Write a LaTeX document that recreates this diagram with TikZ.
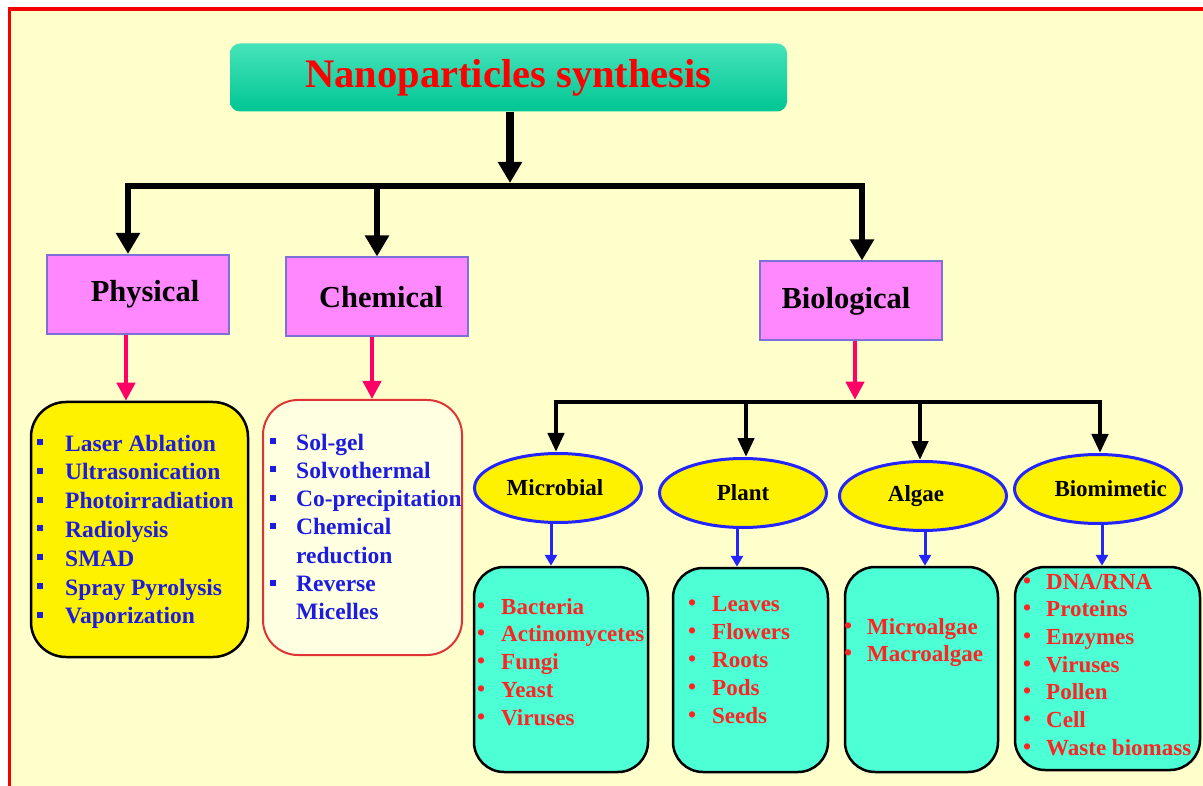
\documentclass[tikz,border=0pt]{standalone}
\usepackage{fontspec}
\setmainfont{Liberation Serif}
\usetikzlibrary{arrows.meta,shapes.geometric}
\definecolor{bgy}{HTML}{FFFFCC}
\definecolor{framered}{HTML}{F40000}
\definecolor{titletop}{HTML}{46E4BA}
\definecolor{titlebot}{HTML}{00C593}
\definecolor{magbox}{HTML}{FF88FF}
\definecolor{magborder}{HTML}{7E70D8}
\definecolor{pinkarr}{HTML}{FF0066}
\definecolor{listblue}{HTML}{1C1CE0}
\definecolor{ellblue}{HTML}{2424FF}
\definecolor{cyanbox}{HTML}{4DFFD4}
\definecolor{listred}{HTML}{FF2424}
\definecolor{chemred}{HTML}{E03434}
\definecolor{chemfill}{HTML}{FFFFE2}
\newcommand\mysqbul{\rule[6pt]{5.5pt}{6pt}}
\newcommand\myrdbul{\raisebox{1pt}{\textbullet}}
\begin{document}
\begin{tikzpicture}[x=1pt,y=-1pt,
  titlebox/.style={rectangle, rounded corners=10pt, top color=titletop, bottom color=titlebot,
    minimum width=557pt, minimum height=68pt, inner sep=0pt,
    font=\fontsize{40.5}{42}\selectfont\bfseries, text=red},
  catbox/.style={rectangle, fill=magbox, draw=magborder, line width=2pt,
    minimum width=182pt, minimum height=79pt, inner sep=0pt,
    font=\fontsize{30.5}{32}\selectfont\bfseries},
  ylist/.style={rectangle, rounded corners=35pt, fill=yellow, draw=black, line width=2.5pt,
    inner sep=0pt},
  clist/.style={rectangle, rounded corners=35pt, fill=chemfill, draw=chemred, line width=2pt,
    inner sep=0pt},
  glist/.style={rectangle, rounded corners=30pt, fill=cyanbox, draw=black, line width=2.5pt,
    inner sep=0pt},
  subell/.style={ellipse, fill=yellow, draw=ellblue, line width=3pt, inner sep=0pt,
    minimum width=167pt, minimum height=69pt, font=\fontsize{23}{25}\selectfont\bfseries},
  blueitem/.style={anchor=base west, inner sep=0pt, text=listblue,
    font=\fontsize{23.5}{25}\selectfont\bfseries},
  reditem/.style={anchor=base west, inner sep=0pt, text=listred,
    font=\fontsize{23}{25}\selectfont\bfseries},
  bigarrow/.style={line width=6.5pt, -{Triangle[width=23pt,length=21pt]}},
  trunk/.style={line width=6.5pt, line cap=rect},
  subtrunk/.style={line width=4.5pt, line cap=rect},
  smallarrow/.style={line width=4.5pt, -{Triangle[width=16pt,length=19pt]}},
  pinkarrow/.style={draw=pinkarr, line width=4pt, -{Triangle[width=18pt,length=18pt]}},
  bluearrow/.style={draw=ellblue, line width=3pt, -{Triangle[width=12pt,length=11pt]}}
]
\useasboundingbox (0,0) rectangle (1203,786);
\fill[white] (0,0) rectangle (1203,786);
\fill[bgy] (9,9) rectangle (1203,786);
\draw[framered, line width=3.5pt] (9.5,786) -- (9.5,9) -- (1203,9);

% title
\node[titlebox] (title) at (508.5,77.5) {Nanoparticles synthesis};

% main categories
\node[catbox] (phys) at (138,294.5) {\hspace*{14pt}Physical};
\node[catbox] (chem) at (377,297) {\hspace*{8pt}Chemical};
\node[catbox] (bio) at (851,301) {Biological\hspace*{10pt}};

% top trunk
\coordinate (barL) at (128,186);
\coordinate (barM) at (510,186);
\coordinate (barC) at (377,186);
\coordinate (barR) at (862,186);
\draw[trunk] (barL) -- (barR);
\draw[bigarrow, line width=8pt] (title.south -| barM) -- ([yshift=3pt]barM);
\draw[bigarrow] (barL) -- (barL |- phys.north);
\draw[bigarrow] (barC) -- (barC |- chem.north);
\draw[bigarrow] (barR) -- (barR |- bio.north);

% list boxes
\node[ylist, minimum width=217pt, minimum height=255pt] (physlist) at (139.5,529.5) {};
\node[clist, minimum width=199pt, minimum height=255pt] (chemlist) at (362.5,527.5) {};

\draw[pinkarrow] ([xshift=-12pt]phys.south) -- ([xshift=-13.5pt]physlist.north);
\draw[pinkarrow] ([xshift=-5pt]chem.south) -- ([xshift=9.5pt]chemlist.north);

\foreach \t [count=\i] in {Laser Ablation,Ultrasonication,Photoirradiation,Radiolysis,SMAD,Spray Pyrolysis,Vaporization}
  \node[blueitem] (phy\i) at (37,{451+28.8*(\i-1)}) {\makebox[28pt][l]{\mysqbul}\t};

\foreach \b/\t [count=\i] in {1/Sol-gel,1/Solvothermal,1/Co-precipitation,1/Chemical,0/reduction,1/Reverse,0/Micelles}
  \node[blueitem] (chm\i) at (270,{450+28.3*(\i-1)}) {\makebox[26pt][l]{\ifnum\b=1 \mysqbul\fi}\t};

% biological branch
\coordinate (bb1) at (556,402);
\coordinate (bb2) at (746,402);
\coordinate (bbM) at (855,402);
\coordinate (bb3) at (920,402);
\coordinate (bb4) at (1100,402);
\draw[subtrunk] (bb1) -- (bb4);
\draw[pinkarrow] ([xshift=4pt]bio.south) -- ([yshift=2.25pt]bbM);

\node[subell] (micro) at (558,488) {Microbial\hspace*{6pt}};
\node[subell] (plant) at (743,493) {Plant};
\node[subell] (algae) at (923,496) {Algae\hspace*{14pt}};
\node[subell] (biom) at (1098,489) {\hspace*{10pt}\makebox[97pt][l]{Biomimetic}};

\draw[smallarrow] (bb1) -- (bb1 |- micro.north);
\draw[smallarrow] (bb2) -- (bb2 |- plant.north);
\draw[smallarrow] (bb3) -- (bb3 |- algae.north);
\draw[smallarrow] (bb4) -- (bb4 |- biom.north);

\node[glist, minimum width=174pt, minimum height=205pt] (mbox) at (561,669.5) {};
\node[glist, minimum width=155pt, minimum height=204pt] (pbox) at (750.5,670) {};
\node[glist, minimum width=153pt, minimum height=205pt] (abox) at (921.5,669.5) {};
\node[glist, minimum width=185pt, minimum height=203pt] (bbox) at (1107.5,668.5) {};

\draw[bluearrow] ([xshift=-7pt]micro.south) -- ([xshift=-10pt]mbox.north);
\draw[bluearrow] ([xshift=-6pt]plant.south) -- ([xshift=-13.5pt]pbox.north);
\draw[bluearrow] ([xshift=2pt]algae.south) -- ([xshift=3.5pt]abox.north);
\draw[bluearrow] ([xshift=4pt]biom.south) -- ([xshift=-5.5pt]bbox.north);

\foreach \t [count=\i] in {Bacteria,Actinomycetes,Fungi,Yeast,Viruses}
  \node[reditem] (mic\i) at (477,{614+27.8*(\i-1)}) {\makebox[24pt][l]{\myrdbul}\t};
\foreach \t [count=\i] in {Leaves,Flowers,Roots,Pods,Seeds}
  \node[reditem] (pla\i) at (688,{611+28*(\i-1)}) {\makebox[24pt][l]{\myrdbul}\t};
\foreach \t [count=\i] in {Microalgae,Macroalgae}
  \node[reditem] (alg\i) at (844,{634+27*(\i-1)}) {\makebox[23pt][l]{\myrdbul}\t};
\foreach \t [count=\i] in {DNA/RNA,Proteins,Enzymes,Viruses,Pollen,Cell,Waste biomass}
  \node[reditem] (bim\i) at (1023,{589+27.7*(\i-1)}) {\makebox[23pt][l]{\myrdbul}\t};
\end{tikzpicture}
\end{document}
